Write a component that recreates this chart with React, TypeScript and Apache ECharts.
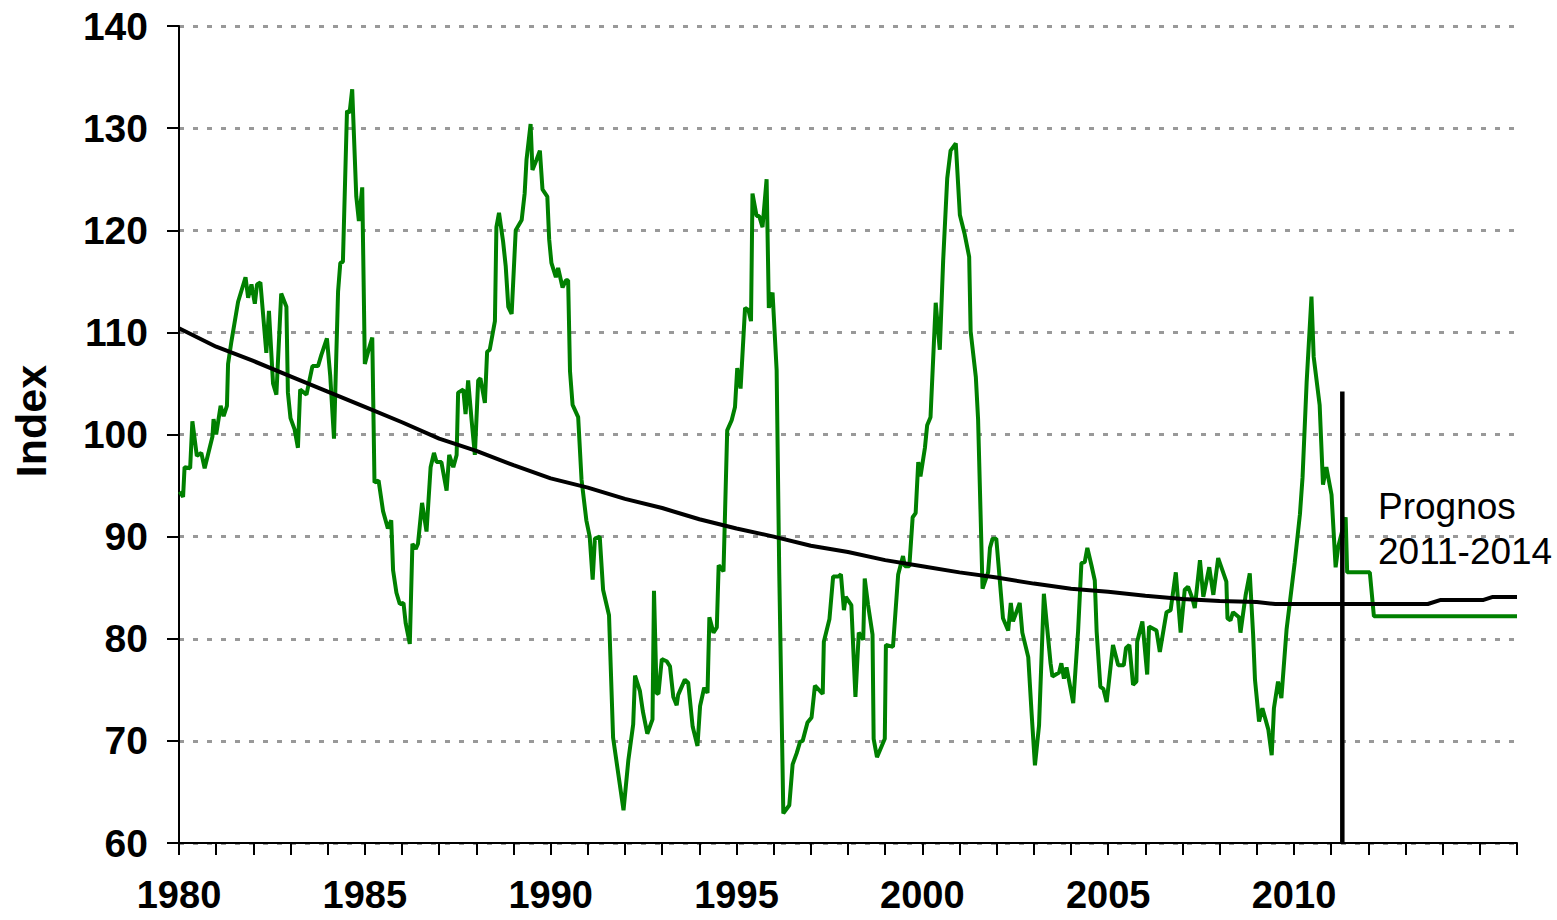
import React, { useEffect, useRef } from "react";
import * as echarts from "echarts";

const observed: [number, number][] = [
  [1980.02, 94.4], [1980.11, 93.9], [1980.15, 96.8], [1980.30, 96.7], [1980.36, 101.3], [1980.48, 97.9],
  [1980.60, 98.2], [1980.69, 96.7], [1980.90, 99.8], [1980.93, 101.5], [1981.00, 100.0], [1981.12, 102.8],
  [1981.20, 101.8], [1981.29, 102.8], [1981.32, 106.9], [1981.41, 109.1], [1981.59, 113.0], [1981.79, 115.4],
  [1981.86, 113.4], [1981.95, 114.7], [1982.04, 112.8], [1982.10, 114.7], [1982.19, 114.9], [1982.35, 108.0],
  [1982.42, 112.1], [1982.53, 105.0], [1982.62, 103.9], [1982.75, 113.8], [1982.89, 112.5], [1982.93, 104.1],
  [1983.00, 101.6], [1983.11, 100.5], [1983.20, 98.7], [1983.26, 104.4], [1983.43, 103.9], [1983.59, 106.7],
  [1983.74, 106.7], [1983.83, 107.8], [1983.98, 109.4], [1984.07, 105.7], [1984.17, 99.6], [1984.28, 114.0],
  [1984.34, 116.8], [1984.41, 116.9], [1984.52, 131.7], [1984.59, 131.5], [1984.66, 133.8], [1984.77, 123.3],
  [1984.84, 120.9], [1984.93, 124.2], [1985.00, 106.9], [1985.11, 108.4], [1985.20, 109.5], [1985.26, 95.3],
  [1985.37, 95.5], [1985.49, 92.5], [1985.62, 90.8], [1985.71, 91.6], [1985.76, 86.7], [1985.85, 84.5],
  [1985.94, 83.4], [1986.04, 83.5], [1986.10, 81.5], [1986.21, 79.5], [1986.28, 89.3], [1986.37, 88.8],
  [1986.43, 89.3], [1986.54, 93.3], [1986.66, 90.5], [1986.77, 96.8], [1986.86, 98.2], [1986.93, 97.3],
  [1987.06, 97.3], [1987.20, 94.5], [1987.27, 98.0], [1987.38, 96.8], [1987.47, 98.0], [1987.51, 104.1],
  [1987.65, 104.4], [1987.71, 102.0], [1987.78, 105.3], [1987.87, 101.5], [1987.96, 98.0], [1988.05, 105.3],
  [1988.11, 105.5], [1988.23, 103.1], [1988.29, 108.1], [1988.36, 108.3], [1988.50, 111.1], [1988.54, 120.3],
  [1988.61, 121.7], [1988.72, 118.9], [1988.79, 116.5], [1988.86, 112.5], [1988.95, 111.8], [1989.06, 120.0],
  [1989.22, 121.0], [1989.30, 123.6], [1989.35, 126.9], [1989.46, 130.4], [1989.51, 125.9], [1989.62, 126.9],
  [1989.71, 127.8], [1989.78, 124.0], [1989.91, 123.3], [1989.96, 119.1], [1990.02, 116.8], [1990.14, 115.4],
  [1990.20, 116.3], [1990.32, 114.4], [1990.41, 115.1], [1990.47, 115.1], [1990.52, 106.2], [1990.59, 102.9],
  [1990.74, 101.7], [1990.83, 95.6], [1990.96, 91.6], [1991.05, 90.0], [1991.13, 85.8], [1991.19, 89.8],
  [1991.32, 90.0], [1991.41, 84.8], [1991.57, 82.3], [1991.68, 70.3], [1991.96, 63.2], [1992.09, 68.1],
  [1992.22, 71.6], [1992.27, 76.4], [1992.40, 74.9], [1992.48, 72.9], [1992.60, 70.7], [1992.74, 72.1],
  [1992.78, 84.7], [1992.85, 74.7], [1992.90, 74.6], [1992.99, 78.0], [1993.12, 77.8], [1993.21, 77.3],
  [1993.30, 74.3], [1993.39, 73.5], [1993.43, 74.5], [1993.61, 76.0], [1993.70, 75.7], [1993.82, 71.4],
  [1993.95, 69.5], [1994.02, 73.4], [1994.13, 75.2], [1994.22, 74.7], [1994.27, 82.1], [1994.38, 80.6],
  [1994.47, 81.1], [1994.52, 87.2], [1994.65, 86.6], [1994.75, 100.4], [1994.87, 101.4], [1994.96, 102.7],
  [1995.02, 106.5], [1995.11, 104.5], [1995.23, 112.4], [1995.32, 112.2], [1995.39, 111.1], [1995.43, 123.6],
  [1995.54, 121.4], [1995.61, 121.4], [1995.70, 120.3], [1995.81, 125.0], [1995.87, 112.4], [1995.97, 113.9],
  [1996.08, 106.3], [1996.15, 86.5], [1996.26, 62.9], [1996.42, 63.7], [1996.51, 67.7], [1996.62, 68.8],
  [1996.71, 69.9], [1996.78, 70.0], [1996.91, 71.8], [1997.02, 72.3], [1997.11, 75.4], [1997.32, 74.6],
  [1997.35, 79.7], [1997.50, 81.9], [1997.60, 86.1], [1997.74, 86.1], [1997.81, 86.3], [1997.89, 82.8],
  [1997.94, 84.1], [1998.09, 83.3], [1998.20, 74.3], [1998.29, 80.6], [1998.41, 79.9], [1998.45, 85.9],
  [1998.54, 83.3], [1998.66, 80.4], [1998.69, 70.2], [1998.78, 68.4], [1998.99, 70.2], [1999.02, 79.4],
  [1999.21, 79.2], [1999.35, 86.3], [1999.48, 88.1], [1999.53, 87.1], [1999.65, 87.1], [1999.74, 91.9],
  [1999.82, 92.3], [1999.89, 97.3], [1999.95, 95.9], [2000.07, 98.7], [2000.13, 100.9], [2000.22, 101.7],
  [2000.36, 112.9], [2000.47, 108.3], [2000.56, 117.0], [2000.67, 125.1], [2000.76, 127.8], [2000.90, 128.5],
  [2001.01, 121.5], [2001.14, 119.6], [2001.26, 117.4], [2001.30, 110.1], [2001.44, 105.6], [2001.50, 101.5],
  [2001.62, 84.9], [2001.77, 86.5], [2001.82, 88.9], [2001.89, 89.8], [2001.99, 89.8], [2002.17, 82.0],
  [2002.31, 80.8], [2002.38, 83.5], [2002.44, 81.7], [2002.62, 83.5], [2002.69, 80.6], [2002.85, 78.2],
  [2002.94, 72.7], [2003.03, 67.6], [2003.14, 71.5], [2003.27, 84.4], [2003.45, 77.6], [2003.50, 76.3],
  [2003.68, 76.7], [2003.74, 77.6], [2003.81, 76.1], [2003.88, 77.2], [2004.06, 73.7], [2004.19, 80.7],
  [2004.28, 87.4], [2004.37, 87.5], [2004.44, 88.9], [2004.55, 87.2], [2004.64, 85.7], [2004.69, 80.7],
  [2004.79, 75.3], [2004.87, 75.1], [2004.96, 73.8], [2005.13, 79.4], [2005.27, 77.4], [2005.42, 77.4],
  [2005.48, 79.1], [2005.57, 79.4], [2005.67, 75.5], [2005.76, 75.8], [2005.78, 79.7], [2005.92, 81.7],
  [2006.05, 76.5], [2006.10, 81.2], [2006.30, 80.8], [2006.39, 78.7], [2006.57, 82.6], [2006.68, 82.8],
  [2006.82, 86.5], [2006.95, 80.6], [2007.06, 84.8], [2007.15, 85.1], [2007.27, 83.9], [2007.33, 83.0],
  [2007.47, 87.7], [2007.56, 84.1], [2007.72, 87.0], [2007.83, 84.3], [2007.96, 87.9], [2008.18, 85.6],
  [2008.21, 82.0], [2008.29, 81.8], [2008.36, 82.6], [2008.52, 82.1], [2008.56, 80.6], [2008.70, 84.3],
  [2008.81, 86.4], [2008.90, 80.4], [2008.95, 76.0], [2009.06, 71.9], [2009.15, 73.2], [2009.31, 71.1],
  [2009.40, 68.6], [2009.46, 73.2], [2009.57, 75.8], [2009.66, 74.2], [2009.80, 80.9], [2010.02, 87.5],
  [2010.16, 92.2], [2010.23, 95.8], [2010.34, 105.1], [2010.47, 113.5], [2010.53, 107.6], [2010.69, 102.9],
  [2010.78, 95.1], [2010.87, 96.8], [2011.01, 94.1], [2011.12, 87.0], [2011.19, 89.0], [2011.39, 91.9],
  [2011.43, 86.5], [2012.04, 86.5], [2012.15, 82.2], [2016.00, 82.2],
];

// Long-run trend line
const trend: [number, number][] = [
  [1980.0, 110.4], [1981, 108.6], [1982, 107.2], [1983, 105.7], [1984, 104.2], [1985, 102.7],
  [1986, 101.2], [1987, 99.6], [1988, 98.4], [1989, 97.0], [1990, 95.7], [1991, 94.8],
  [1992, 93.7], [1993, 92.8], [1994, 91.7], [1995, 90.8], [1996, 90.0], [1997, 89.1],
  [1998, 88.5], [1999, 87.7], [2000, 87.1], [2001, 86.5], [2002, 86.0], [2003, 85.4],
  [2004, 84.9], [2005, 84.6], [2006, 84.2], [2007, 83.9], [2008, 83.7], [2009, 83.6],
  [2009.5, 83.4], [2013.6, 83.4], [2013.95, 83.8], [2015.1, 83.8], [2015.35, 84.1], [2016, 84.1],
];

// Vertical divider marking the start of the forecast
const forecastStart: [number, number][] = [[2011.3, 60], [2011.3, 104.2]];

const xLabelYears = [1980, 1985, 1990, 1995, 2000, 2005, 2010];
const yTicks = { min: 60, max: 140, interval: 10 };
const forecastLabel = "Prognos\n2011-2014";
const yTitle = "Index";

export default function App() {
  const ref = useRef<HTMLDivElement>(null);
  useEffect(() => {
    if (!ref.current) return;
    const chart = echarts.init(ref.current, undefined, { renderer: "svg" });
    const font = "Liberation Sans, Arial, sans-serif";
    chart.setOption({
      animation: false,
      backgroundColor: "#ffffff",
      grid: { left: 179, right: 40, top: 26, bottom: 77, containLabel: false },
      xAxis: {
        type: "value",
        min: 1980,
        max: 2016,
        interval: 1,
        axisLine: { show: true, lineStyle: { color: "#000", width: 2 } },
        axisTick: { show: true, length: 12, lineStyle: { color: "#000", width: 2 } },
        splitLine: { show: false },
        axisLabel: {
          margin: 33,
          color: "#000",
          fontSize: 38,
          fontWeight: "bold",
          fontFamily: font,
          formatter: (v: number) => (xLabelYears.includes(Math.round(v)) ? String(Math.round(v)) : ""),
        },
      },
      yAxis: {
        type: "value",
        min: yTicks.min,
        max: yTicks.max,
        interval: yTicks.interval,
        axisLine: { show: true, lineStyle: { color: "#000", width: 2 } },
        axisTick: { show: true, length: 12, lineStyle: { color: "#000", width: 2 } },
        splitLine: { show: true, lineStyle: { color: "#999", width: 3, type: [5, 9] } },
        axisLabel: {
          margin: 31,
          color: "#000",
          fontSize: 39,
          fontWeight: "bold",
          fontFamily: font,
        },
      },
      graphic: [
        {
          type: "text",
          x: 31,
          y: 421,
          rotation: Math.PI / 2,
          style: {
            text: yTitle,
            fill: "#000",
            font: `bold 43px ${font}`,
            textAlign: "center",
            textVerticalAlign: "middle",
          },
        },
        {
          type: "text",
          left: 1378,
          top: 484,
          style: {
            text: forecastLabel,
            fill: "#000",
            font: `37px ${font}`,
            lineHeight: 45,
          },
        },
      ],
      series: [
        {
          type: "line",
          data: observed,
          showSymbol: false,
          lineStyle: { color: "#008000", width: 4 },
          z: 2,
        },
        {
          type: "line",
          data: trend,
          showSymbol: false,
          lineStyle: { color: "#000", width: 4 },
          z: 3,
        },
        {
          type: "line",
          data: forecastStart,
          showSymbol: false,
          lineStyle: { color: "#000", width: 4.5 },
          z: 4,
        },
      ],
    });
    return () => chart.dispose();
  }, []);
  return (
    <div
      ref={ref}
      style={{ position: "fixed", left: 0, top: 0, width: 1557, height: 920 }}
    />
  );
}
